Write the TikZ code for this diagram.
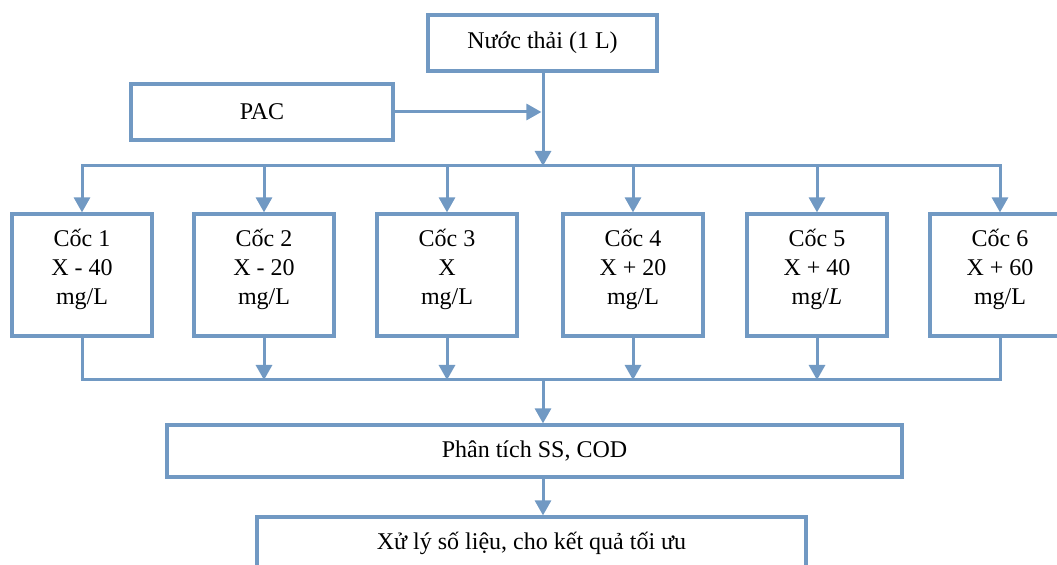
\documentclass[tikz,border=0pt]{standalone}
\usepackage{fontspec}
\setmainfont{Liberation Serif}
\usetikzlibrary{arrows.meta}
\definecolor{bl}{RGB}{113,153,195}
\begin{document}
\begin{tikzpicture}[x=0.5pt,y=-0.5pt,
  txt/.style={align=center,font=\fontsize{12}{14.5}\selectfont,inner sep=0pt},
  box/.style={txt,draw=bl,line width=1.6pt,rectangle},
  cup/.style={box,minimum width=70pt,minimum height=61pt},
  ln/.style={draw=bl,line width=1.5pt},
  arr/.style={ln,-{Triangle[width=8pt,length=7.5pt]}}]
\useasboundingbox (0,0) rectangle (1057,565);
\clip (0,0) rectangle (1057,565);
\node[box,minimum width=114.5pt,minimum height=28pt] (nt) at (542.5,43) {Nước thải (1 L)};
\node[box,minimum width=131pt,minimum height=28pt] (pac) at (262,112) {PAC};
\node[cup,label={[txt,yshift=3pt]center:{Cốc 1\\ X - 40\\ mg/L}}] (c1) at (82,275) {};
\node[cup,label={[txt,yshift=3pt]center:{Cốc 2\\ X - 20\\ mg/L}}] (c2) at (264,275) {};
\node[cup,label={[txt,yshift=3pt]center:{Cốc 3\\ X\\ mg/L}}] (c3) at (447,275) {};
\node[cup,label={[txt,yshift=3pt]center:{Cốc 4\\ X + 20\\ mg/L}}] (c4) at (633,275) {};
\node[cup,label={[txt,yshift=3pt]center:{Cốc 5\\ X + 40\\ mg/\textit{L}}}] (c5) at (817,275) {};
\node[cup,label={[txt,yshift=3pt]center:{Cốc 6\\ X + 60\\ mg/L}}] (c6) at (1000,275) {};
\node[box,minimum width=367.5pt,minimum height=26pt] (pt) at (534.5,451) {Phân tích SS, COD};
\node[box,minimum width=274.5pt,minimum height=26pt] (xl) at (531.5,543) {Xử lý số liệu, cho kết quả tối ưu};
\coordinate (jp) at (543,112);
\coordinate (jt) at (543,166);
\coordinate (jb) at (543,380);
\draw[arr] (nt.south -| jt) -- (jt);
\draw[arr,shorten >=0.8pt] (pac.east) -- (jp);
\draw[ln,line cap=rect] (c1.north |- jt) -- (c6.north |- jt);
\foreach \i in {1,...,6} \draw[arr] (c\i.north |- jt) -- (c\i.north);
\draw[ln] (c1.south) -- (c1.south |- jb) -- (c6.south |- jb) -- (c6.south);
\foreach \i in {2,...,5} \draw[arr] (c\i.south) -- (c\i.south |- jb);
\draw[arr] (jb) -- (jb |- pt.north);
\draw[arr] (pt.south -| jb) -- (xl.north -| jb);
\end{tikzpicture}
\end{document}
